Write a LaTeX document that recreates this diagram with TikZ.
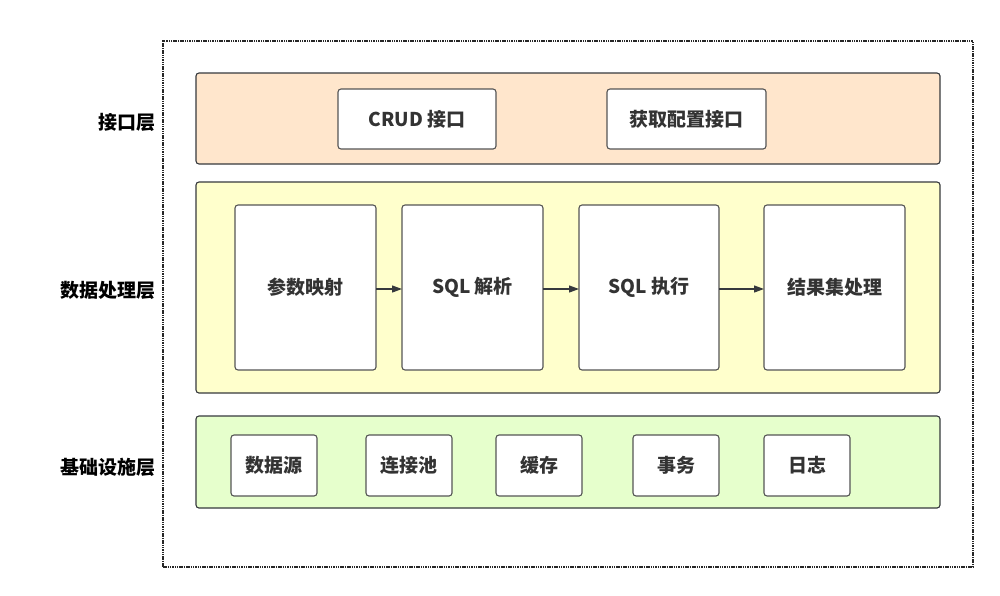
\documentclass[tikz,border=0pt]{standalone}
\usepackage{fontspec}
\setmainfont{Noto Sans CJK SC}
\usetikzlibrary{arrows.meta}
\definecolor{bandtop}{HTML}{FFE6CC}
\definecolor{bandmid}{HTML}{FFFFCC}
\definecolor{bandbot}{HTML}{E6FFCC}
\definecolor{edge}{HTML}{36393D}
\definecolor{boxedge}{HTML}{555555}
\definecolor{txt}{HTML}{333333}
\tikzset{
  band/.style={draw=edge, line width=1.1pt, rounded corners=3pt, inner sep=0pt, outer sep=0pt, minimum width=744pt},
  unit/.style={draw=boxedge, fill=white, line width=1.1pt, rounded corners=3pt, inner sep=0pt, outer sep=0pt, text=txt, font=\fontsize{19}{22}\selectfont\bfseries},
  layerlabel/.style={anchor=east, inner sep=0pt, font=\fontsize{19}{22}\selectfont\bfseries, text=black},
  flow/.style={draw=edge, line width=1.2pt, -{Triangle[length=10pt,width=7pt]}}
}
\begin{document}
\begin{tikzpicture}[x=1pt,y=-1pt]
\useasboundingbox (0,0) rectangle (1000,595);
% outer dashed frame
\node[draw=black!85, line width=1.1pt, dash pattern=on 1.5pt off 0.8pt, minimum width=810pt, minimum height=526pt, inner sep=0pt] (frame) at (568,304) {};
% bands
\node[band, fill=bandtop, minimum height=91pt] (top) at (568,118.5) {};
\node[band, fill=bandmid, minimum height=211pt] (mid) at (568,287.5) {};
\node[band, fill=bandbot, minimum height=92pt] (bot) at (568,462) {};
% layer labels
\node[layerlabel] (l1) at (156,122) {接口层};
\node[layerlabel] (l2) at (156,290) {数据处理层};
\node[layerlabel] (l3) at (156,467) {基础设施层};
% top boxes
\node[unit, minimum width=158pt, minimum height=60pt] (crud) at (417,119) {CRUD 接口};
\node[unit, minimum width=159pt, minimum height=60pt] (cfg) at (686.5,119) {获取配置接口};
% middle boxes
\node[unit, minimum width=141pt, minimum height=165pt] (map) at (305.5,287.5) {参数映射};
\node[unit, minimum width=141pt, minimum height=165pt] (parse) at (472.5,287.5) {SQL 解析};
\node[unit, minimum width=140pt, minimum height=165pt] (exec) at (649,287.5) {SQL 执行};
\node[unit, minimum width=141pt, minimum height=165pt] (res) at (834.5,287.5) {结果集处理};
\draw[flow] (map.east |- 0,289) -- (parse.west |- 0,289);
\draw[flow] (parse.east |- 0,289) -- (exec.west |- 0,289);
\draw[flow] (exec.east |- 0,289) -- (res.west |- 0,289);
% bottom boxes
\node[unit, minimum width=86pt, minimum height=61pt] (ds) at (274,465.5) {数据源};
\node[unit, minimum width=86pt, minimum height=61pt] (pool) at (409,465.5) {连接池};
\node[unit, minimum width=86pt, minimum height=61pt] (cache) at (539,465.5) {缓存};
\node[unit, minimum width=86pt, minimum height=61pt] (tx) at (676,465.5) {事务};
\node[unit, minimum width=86pt, minimum height=61pt] (log) at (807,465.5) {日志};
\end{tikzpicture}
\end{document}
